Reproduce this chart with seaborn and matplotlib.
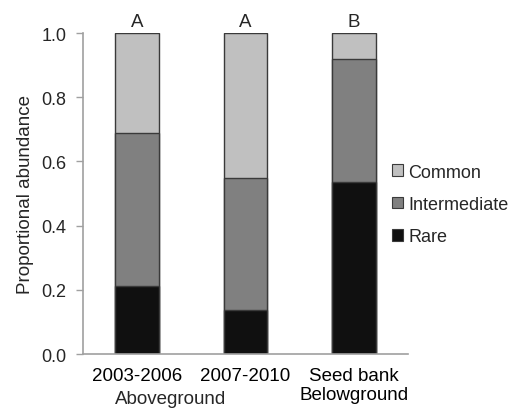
import matplotlib
matplotlib.use("Agg")
import matplotlib.pyplot as plt
import matplotlib.transforms as mtransforms
import seaborn as sns
import pandas as pd
from matplotlib.patches import Patch

categories = ["2003-2006", "2007-2010", "Seed bank\nBelowground"]
group_label = "Aboveground"
rare = [0.213, 0.138, 0.536]
intermediate = [0.476, 0.411, 0.384]
common = [0.311, 0.451, 0.080]
group_letters = ["A", "A", "B"]

sns.set_theme(style="white")
plt.rcParams["font.family"] = ["Liberation Sans", "DejaVu Sans"]

df = pd.DataFrame({"cat": categories, "rare": rare,
                   "intermediate": intermediate, "common": common})
df["top_rare"] = df["rare"]
df["top_inter"] = df["rare"] + df["intermediate"]
df["top_common"] = df["top_inter"] + df["common"]

colors = {"Common": "#c0c0c0", "Intermediate": "#808080", "Rare": "#101010"}
edge = "#3a3a3a"
fs = 13
fs_big = 13.5

fig = plt.figure(figsize=(5.12, 4.10), dpi=100)
ax = fig.add_axes([0.162, 0.134, 0.635, 0.783])

# stacked bars drawn as overlapping cumulative totals
for col, name in [("top_common", "Common"), ("top_inter", "Intermediate"), ("top_rare", "Rare")]:
    sns.barplot(data=df, x="cat", y=col, color=colors[name], saturation=1,
                width=0.4, edgecolor=edge, linewidth=1.0, ax=ax, errorbar=None)

ax.set_ylim(0, 1.0)
ax.set_xlim(-0.5, 2.5)
ax.set_yticks([0, 0.2, 0.4, 0.6, 0.8, 1.0])
ax.set_yticklabels([f"{v:.1f}" for v in [0, 0.2, 0.4, 0.6, 0.8, 1.0]])
ax.set_xticks([0, 1, 2])
ax.set_xticklabels(categories, va="top")
ax.set_xticks([-0.5, 0.5, 1.5, 2.5], minor=True)
ax.tick_params(axis="x", which="major", length=0, labelsize=fs_big, pad=9, colors="black")
ax.tick_params(axis="x", which="minor", length=5, width=1, color="#a0a0a0", direction="out")
ax.tick_params(axis="y", length=5, width=1, color="#a0a0a0", direction="out",
               labelsize=fs, pad=7, left=True)
for lab in ax.get_xticklabels():
    lab.set_linespacing(1.2)
ax.set_xlabel("")
ax.set_ylabel("Proportional abundance", fontsize=fs_big, labelpad=5)

# shared label under the two aboveground periods
trans = mtransforms.blended_transform_factory(ax.transData, fig.transFigure)
ax.text(0.31, 1 - 400 / 410, group_label, transform=trans, ha="center",
        va="center", fontsize=fs_big)

sns.despine(ax=ax)
for s in ["left", "bottom"]:
    ax.spines[s].set_color("#a0a0a0")
    ax.spines[s].set_linewidth(1.2)

for i, letter in enumerate(group_letters):
    ax.text(i, 1.022, letter, ha="center", va="baseline", fontsize=fs_big)

handles = [Patch(facecolor=colors[n], edgecolor=edge, linewidth=0.8, label=n)
           for n in ["Common", "Intermediate", "Rare"]]
fig.legend(handles=handles, loc="center left", bbox_to_anchor=(0.766, 0.499),
           frameon=False, fontsize=fs, handlelength=0.6, handleheight=0.6,
           handletextpad=0.3, labelspacing=0.85, borderpad=0, borderaxespad=0)

fig.savefig("out.png", dpi=100)
